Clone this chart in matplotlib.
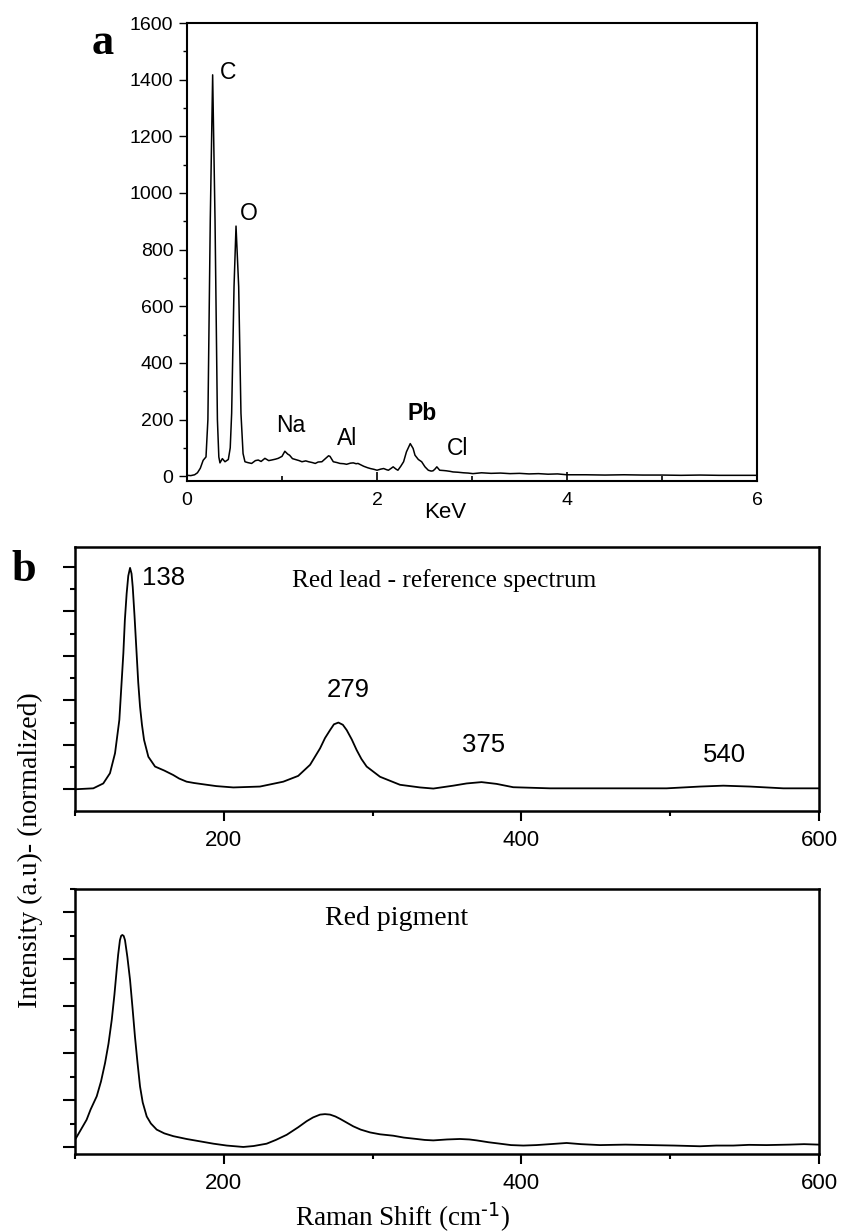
import numpy as np
import matplotlib
matplotlib.use('Agg')
import matplotlib.pyplot as plt
from matplotlib.ticker import MultipleLocator, NullFormatter

plt.rcParams['font.family'] = 'Liberation Sans'
plt.rcParams['mathtext.default'] = 'regular'
SERIF = 'Liberation Serif'

# (a) EDS spectrum
kev = [0.0, 0.04, 0.08, 0.11, 0.14, 0.17, 0.20, 0.22, 0.245, 0.27, 0.295, 0.32, 0.335,
       0.347, 0.372, 0.40, 0.435, 0.455, 0.47, 0.495, 0.516, 0.544, 0.568, 0.59, 0.61,
       0.64, 0.68, 0.72, 0.75, 0.78, 0.82, 0.86, 0.89, 0.93, 0.96, 1.0, 1.03, 1.06, 1.08,
       1.11, 1.14, 1.18, 1.21, 1.25, 1.28, 1.32, 1.35, 1.38, 1.42, 1.45, 1.47, 1.49, 1.505,
       1.54, 1.58, 1.61, 1.65, 1.68, 1.72, 1.75, 1.78, 1.80, 1.83, 1.86, 1.90, 1.93, 1.97,
       2.0, 2.04, 2.07, 2.10, 2.12, 2.15, 2.17, 2.20, 2.22, 2.25, 2.28, 2.31, 2.35, 2.38,
       2.40, 2.435, 2.47, 2.505, 2.54, 2.57, 2.59, 2.61, 2.63, 2.66, 2.70, 2.73, 2.77, 2.80,
       2.85, 2.91, 2.96, 3.01, 3.1, 3.2, 3.3, 3.4, 3.5, 3.6, 3.7, 3.8, 3.9, 4.0, 4.2, 4.4,
       4.6, 4.8, 5.0, 5.2, 5.4, 5.6, 5.8, 6.0]
counts = [3, 2, 5, 12, 28, 56, 68, 200, 905, 1417, 905, 200, 68,
          47, 62, 51, 59, 100, 222, 669, 883, 669, 222, 80, 51,
          48, 45, 55, 57, 52, 63, 55, 57, 60, 63, 70, 88, 78, 74,
          62, 59, 55, 51, 54, 51, 48, 45, 50, 51, 60, 66, 72, 70,
          51, 48, 45, 44, 42, 46, 47, 44, 45, 40, 35, 30, 27, 24,
          21, 25, 27, 23, 21, 28, 33, 25, 21, 35, 51, 86, 115, 98,
          74, 59, 51, 33, 21, 18, 19, 25, 33, 21, 20, 19, 17, 15,
          14, 12, 11, 9, 12, 10, 11, 9, 10, 8, 9, 7, 8, 5, 5, 4,
          5, 4, 4, 3, 4, 3, 3, 3]
elements = ['C', 'O', 'Na', 'Al', 'Pb', 'Cl']
elem_x = [0.35, 0.56, 0.94, 1.58, 2.32, 2.74]
elem_y = [1427, 929, 180, 134, 223, 99]

# (b) Raman, red lead reference
ref_shift = [100.7, 112.3, 119, 123.5, 126.9, 129.8, 132.5, 133.5, 134.7, 135.8, 137, 138,
             138.8, 140, 141.4, 142.5, 143.7, 145, 146.4, 149.3, 153.8, 160, 166, 170, 175,
             180, 188.5, 195, 206.4, 224.3, 240, 250, 258, 264.7, 268, 271.4, 274, 277, 280,
             282.6, 286, 289.3, 292.5, 296, 305, 318.4, 331.9, 340.8, 354.2, 363.2,
             373.2, 383.3, 394.5, 419.2, 452.8, 497.6, 520, 535.7, 553.6, 576, 600]
ref_int = [0.0, 0.02, 0.13, 0.36, 0.81, 1.56, 3.06, 3.8, 4.40, 4.8, 4.98, 4.85,
           4.55, 3.9, 3.06, 2.4, 1.86, 1.45, 1.11, 0.73, 0.51, 0.42, 0.32, 0.24, 0.17,
           0.14, 0.10, 0.07, 0.04, 0.06, 0.17, 0.30, 0.55, 0.92, 1.15, 1.33, 1.46, 1.50, 1.45,
           1.33, 1.12, 0.88, 0.68, 0.51, 0.28, 0.10, 0.04, 0.015, 0.08, 0.13,
           0.16, 0.12, 0.045, 0.02, 0.02, 0.02, 0.06, 0.08, 0.06, 0.02, 0.02]
peaks = ['138', '279', '375', '540']
peak_x = [145, 269, 360, 522]
peak_y = [4.75, 2.23, 1.0, 0.78]

# (b) Raman, red pigment
pig_shift = [100.7, 107.8, 110.5, 114.6, 117.5, 120.2, 122.5, 124.7, 126.5, 128, 129,
             130.2, 131, 131.8, 132.7, 133.6, 135.2, 137, 138.7, 140.3, 142, 143.7, 145.5,
             148.2, 151, 154.9, 160, 166.1, 175, 184, 193, 202, 213.1, 220, 228.8, 235,
             242.3, 250, 255.7, 260, 264.7, 268, 271.4, 275, 278.1, 282, 287, 292, 298.3,
             305, 313.9, 321, 329.6, 335, 340.8, 350, 358.7, 365, 370, 378, 385.6, 393,
             401.3, 410, 419.2, 430.4, 440, 452.8, 470, 486.4, 503, 520, 531, 542.4, 553,
             564.8, 580, 590, 600]
pig_int = [0.19, 0.58, 0.8, 1.08, 1.4, 1.79, 2.2, 2.71, 3.25, 3.77, 4.1,
           4.41, 4.5, 4.52, 4.5, 4.41, 4.05, 3.56, 2.95, 2.35, 1.8, 1.29, 0.95,
           0.65, 0.5, 0.37, 0.29, 0.23, 0.17, 0.12, 0.07, 0.03, 0.0, 0.02, 0.07, 0.15,
           0.26, 0.42, 0.55, 0.63, 0.69, 0.70, 0.69, 0.65, 0.60, 0.53, 0.44, 0.37, 0.31,
           0.27, 0.24, 0.20, 0.17, 0.15, 0.14, 0.16, 0.17, 0.16, 0.14, 0.10, 0.07, 0.04,
           0.03, 0.04, 0.06, 0.085, 0.06, 0.04, 0.05, 0.04, 0.03, 0.015, 0.03, 0.03, 0.045,
           0.04, 0.05, 0.06, 0.05]

W, H = 843, 1231
fig = plt.figure(figsize=(W / 100, H / 100), dpi=100)

# ---- panel a
ax1 = fig.add_axes([187 / W, 1 - 481 / H, 570 / W, 458 / H])
ax1.plot(kev, counts, color='black', lw=1.1)
ax1.set_xlim(0, 6)
ax1.set_ylim(-17, 1600)
ax1.xaxis.set_major_locator(MultipleLocator(2))
ax1.xaxis.set_minor_locator(MultipleLocator(1))
ax1.yaxis.set_major_locator(MultipleLocator(200))
ax1.yaxis.set_minor_locator(MultipleLocator(100))
ax1.tick_params(axis='x', which='major', direction='in', length=6.5, width=1.2, pad=8, labelsize=14)
ax1.tick_params(axis='x', which='minor', direction='in', length=3.6, width=1.2)
ax1.tick_params(axis='y', which='major', direction='out', length=5.8, width=1.0, pad=4, labelsize=14)
ax1.tick_params(axis='y', which='minor', direction='out', length=2.9, width=1.0)
for s in ax1.spines.values():
    s.set_linewidth(1.5)
for i, el in enumerate(elements):
    ax1.text(elem_x[i], elem_y[i], el, ha='left', va='center', fontsize=16.5,
             fontweight='bold' if el == 'Pb' else 'normal')
fig.text(445 / W, 1 - 513 / H, 'KeV', ha='center', va='center', fontsize=16)
fig.text(103 / W, 1 - 43 / H, 'a', ha='center', va='center', fontsize=32,
         fontweight='bold', family=SERIF)

# ---- panel b, both spectra
def raman_axes(top, bottom, ylo, yhi):
    ax = fig.add_axes([75 / W, 1 - bottom / H, 744 / W, (bottom - top) / H])
    ax.set_xlim(100, 600)
    ax.set_ylim(ylo, yhi)
    ax.xaxis.set_major_locator(MultipleLocator(200))
    ax.xaxis.set_minor_locator(MultipleLocator(100))
    ax.yaxis.set_major_locator(MultipleLocator(1))
    ax.yaxis.set_minor_locator(MultipleLocator(0.5))
    ax.yaxis.set_major_formatter(NullFormatter())
    ax.tick_params(axis='x', which='major', direction='out', length=7, width=1.5, pad=7, labelsize=16)
    ax.tick_params(axis='x', which='minor', direction='out', length=3.6, width=1.5)
    ax.tick_params(axis='y', which='major', direction='out', length=8.6, width=1.5)
    ax.tick_params(axis='y', which='minor', direction='out', length=3.6, width=1.5)
    for s in ax.spines.values():
        s.set_linewidth(1.8)
    return ax

ax2 = raman_axes(547, 811, -0.49, 5.45)
ax2.plot(ref_shift, ref_int, color='black', lw=1.3)
for i, p in enumerate(peaks):
    ax2.text(peak_x[i], peak_y[i], p, ha='left', va='center', fontsize=18.5)
ax2.text(245.8, 4.7, 'Red lead - reference spectrum', ha='left', va='center',
         fontsize=18.3, family=SERIF)

ax3 = raman_axes(889, 1154, -0.15, 5.5)
ax3.plot(pig_shift, pig_int, color='black', lw=1.3)
ax3.text(268, 4.88, 'Red pigment', ha='left', va='center', fontsize=20, family=SERIF)

fig.text(24 / W, 1 - 570 / H, 'b', ha='center', va='center', fontsize=32,
         fontweight='bold', family=SERIF)
fig.text(30 / W, 1 - 850 / H, 'Intensity (a.u)- (normalized)', rotation=90,
         ha='center', va='center', fontsize=20, family=SERIF)
fig.text(402 / W, 1 - 1217 / H, r'Raman Shift (cm$^{\text{-1}}$)', ha='center', va='center',
         fontsize=19.5, family=SERIF)

plt.savefig('out.png', dpi=100)
